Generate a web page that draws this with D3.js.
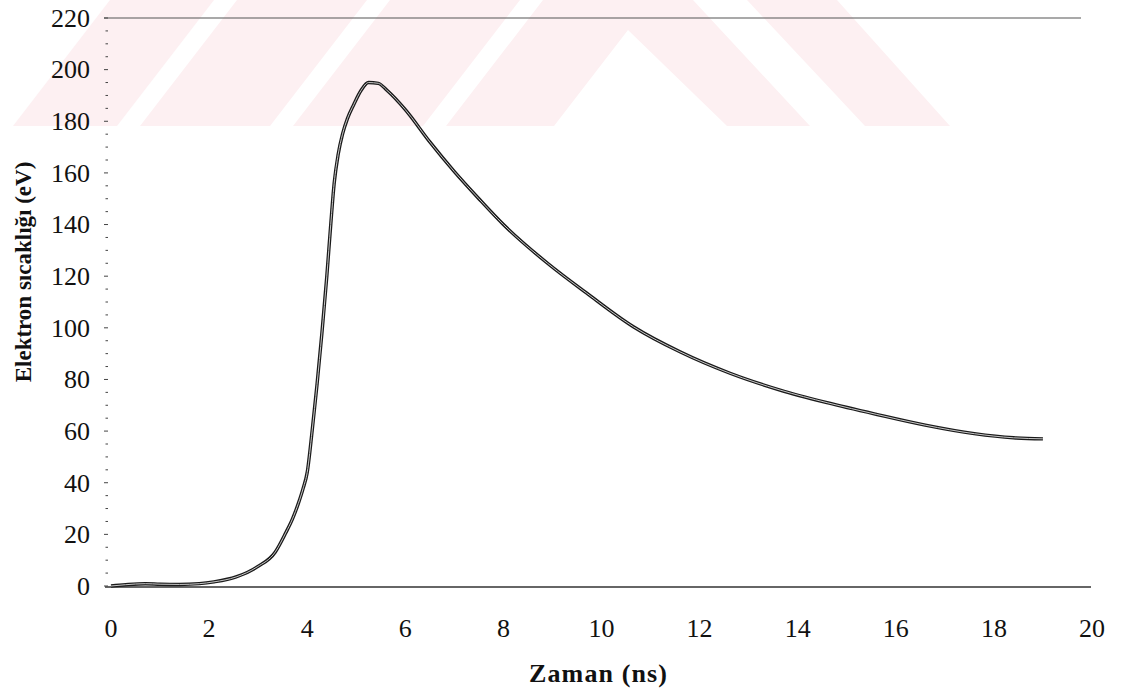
<!DOCTYPE html>
<html>
<head>
<meta charset="utf-8">
<script src="https://cdn.jsdelivr.net/npm/d3@7"></script>
<style>
  body { margin: 0; background: #fff; }
</style>
</head>
<body>
<div id="chart"></div>
<script>
// time (ns) and electron temperature (eV)
const zaman = [0, 0.3, 0.7, 1.0, 1.4, 1.8, 2.1, 2.55, 2.98, 3.35, 3.56, 3.7, 3.82, 3.92, 4.0, 4.1,
  4.2, 4.3, 4.4, 4.48, 4.55, 4.63, 4.72, 4.82, 4.95, 5.1, 5.25, 5.45, 5.62, 6.0, 6.5,
  7.0, 7.5, 8.0, 8.9, 9.7, 10.65, 11.6, 12.62, 13.64, 14.6, 15.6, 16.6, 17.6, 18.4, 19.0];
const sicaklik = [0, 0.5, 0.9, 0.7, 0.6, 0.9, 1.6, 3.5, 7.4, 13.2, 20.5, 26, 32, 38, 44, 60,
  78, 98, 120, 140, 156, 167, 175, 181, 186.5, 192, 195, 194.7, 192.1, 184.5, 172,
  160.5, 150, 140, 125, 113.4, 100.4, 90.7, 82.4, 75.9, 71, 66.5, 62.3, 59, 57.4, 57];

const xTicks = [0, 2, 4, 6, 8, 10, 12, 14, 16, 18, 20];
const yTicks = [0, 20, 40, 60, 80, 100, 120, 140, 160, 180, 200, 220];
const yMinor = d3.range(0, 221, 5);

// faint scanned watermark behind the top of the plot (pixel polygons)
const watermark = [
  [[13,126],[117,126],[214,0],[110,0]],
  [[140,126],[270,126],[367,0],[237,0]],
  [[293,126],[423,126],[520,0],[390,0]],
  [[446,126],[543,0],[693,0],[810,126],[727,126],[628,30],[554,126]],
  [[747,0],[837,0],[950,126],[865,126]]
];

const serif = "'Times New Roman', 'Liberation Serif', Tinos, 'DejaVu Serif', serif";
const W = 1121, H = 695;
const svg = d3.select("#chart").append("svg")
  .attr("width", W).attr("height", H)
  .attr("font-family", serif);

svg.append("rect").attr("width", W).attr("height", H).attr("fill", "#fff");

svg.selectAll(".wm").data(watermark).join("polygon")
  .attr("points", d => d.map(p => p.join(",")).join(" "))
  .attr("fill", "#fdf0f2");

const x = d3.scaleLinear().domain([0, 20]).range([111, 1092]);
const y = d3.scaleLinear().domain([0, 220]).range([586, 18]);

// top border and x axis line
svg.append("line")
  .attr("x1", 104).attr("x2", 1081).attr("y1", y(220)).attr("y2", y(220))
  .attr("stroke", "#555").attr("stroke-width", 1.2);
svg.append("line")
  .attr("x1", 105).attr("x2", 1091).attr("y1", y(0) + 1).attr("y2", y(0) + 1)
  .attr("stroke", "#333").attr("stroke-width", 1.5);

// left axis: only the small tick marks are visible
svg.selectAll(".ytick").data(yMinor).join("line")
  .attr("x1", d => d % 20 === 0 ? 104 : 105.5)
  .attr("x2", 108)
  .attr("y1", d => y(d)).attr("y2", d => y(d))
  .attr("stroke", "#444").attr("stroke-width", 1);

svg.selectAll(".ylab").data(yTicks).join("text")
  .attr("x", 90).attr("y", d => y(d)).attr("dy", "0.34em")
  .attr("text-anchor", "end")
  .attr("font-family", serif)
  .style("font-size", "26px").style("fill", "#111")
  .text(d => d);

svg.selectAll(".xlab").data(xTicks).join("text")
  .attr("x", d => x(d)).attr("y", 637)
  .attr("text-anchor", "middle")
  .attr("font-family", serif)
  .style("font-size", "26px").style("fill", "#111")
  .text(d => d);

// axis titles
svg.append("text")
  .attr("x", 598).attr("y", 682)
  .attr("text-anchor", "middle")
  .attr("font-family", serif)
  .attr("textLength", 138).attr("lengthAdjust", "spacing")
  .style("font-size", "26px").style("font-weight", "bold").style("fill", "#111")
  .text("Zaman (ns)");

svg.append("text")
  .attr("transform", "translate(31,272) rotate(-90)")
  .attr("text-anchor", "middle")
  .attr("font-family", serif)
  .style("font-size", "23px").style("font-weight", "bold").style("fill", "#111")
  .text("Elektron sıcaklığı (eV)");

// the curve, drawn as a double line like the scan
const pts = zaman.map((t, i) => [t, sicaklik[i]]);
const line = d3.line()
  .x(d => x(d[0])).y(d => y(d[1]))
  .curve(d3.curveMonotoneX);

svg.append("path").datum(pts)
  .attr("d", line)
  .attr("fill", "none").attr("stroke", "#1a1a1a").attr("stroke-width", 3.4)
  .attr("stroke-linejoin", "round");
svg.append("path").datum(pts)
  .attr("d", line)
  .attr("fill", "none").attr("stroke", "#c8c8c8").attr("stroke-width", 1);
</script>
</body>
</html>
